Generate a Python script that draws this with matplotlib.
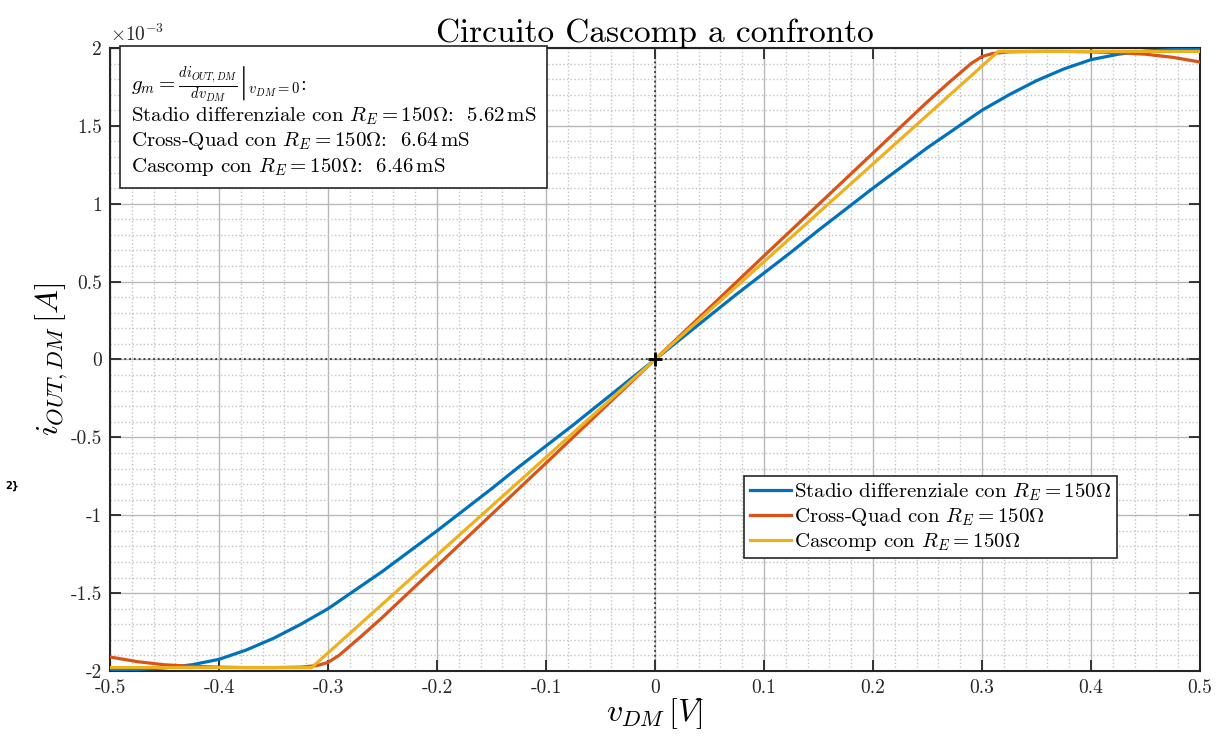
import matplotlib
matplotlib.use('Agg')
import matplotlib.pyplot as plt

plt.rcParams['font.family'] = 'cmr10'
plt.rcParams['mathtext.fontset'] = 'cm'
plt.rcParams['axes.unicode_minus'] = False

# differential stage, values in mA
v_blue = [-0.5, -0.475, -0.45, -0.425, -0.4, -0.375, -0.35, -0.325, -0.3, -0.275, -0.25,
          -0.225, -0.2, -0.175, -0.15, -0.125, -0.1, -0.075, -0.05, -0.025, 0.0,
          0.025, 0.05, 0.075, 0.1, 0.125, 0.15, 0.175, 0.2, 0.225, 0.25,
          0.275, 0.3, 0.325, 0.35, 0.375, 0.4, 0.425, 0.45, 0.475, 0.5]
i_blue = [-1.995, -1.99, -1.98, -1.96, -1.925, -1.865, -1.79, -1.70, -1.60, -1.48, -1.36,
          -1.23, -1.10, -0.965, -0.83, -0.69, -0.555, -0.42, -0.28, -0.14, 0.0,
          0.14, 0.28, 0.42, 0.555, 0.69, 0.83, 0.965, 1.10, 1.23, 1.36,
          1.48, 1.60, 1.70, 1.79, 1.865, 1.925, 1.96, 1.98, 1.99, 1.995]

# cross-quad
v_red = [-0.5, -0.475, -0.45, -0.425, -0.4, -0.375, -0.35, -0.325, -0.31, -0.3, -0.29,
         -0.28, -0.27, -0.25, -0.2, -0.15, -0.1, -0.05, 0.0,
         0.05, 0.1, 0.15, 0.2, 0.25, 0.27, 0.28, 0.29, 0.3, 0.31,
         0.325, 0.35, 0.375, 0.4, 0.425, 0.45, 0.475, 0.5]
i_red = [-1.91, -1.94, -1.96, -1.97, -1.975, -1.978, -1.978, -1.975, -1.965, -1.945, -1.90,
         -1.84, -1.78, -1.655, -1.325, -0.995, -0.665, -0.332, 0.0,
         0.332, 0.665, 0.995, 1.325, 1.655, 1.78, 1.84, 1.90, 1.945, 1.965,
         1.975, 1.978, 1.978, 1.975, 1.97, 1.96, 1.94, 1.91]

# cascomp
v_yel = [-0.5, -0.315, 0.0, 0.315, 0.5]
i_yel = [-1.978, -1.978, 0.0, 1.978, 1.978]

labels = [r'Stadio differenziale con $R_E = 150\Omega$',
          r'Cross-Quad con $R_E = 150\Omega$',
          r'Cascomp con $R_E = 150\Omega$']
colors = ['#0072BD', '#D95319', '#EDB120']

xticks = [-0.5, -0.4, -0.3, -0.2, -0.1, 0, 0.1, 0.2, 0.3, 0.4, 0.5]
xlabels = ['-0.5', '-0.4', '-0.3', '-0.2', '-0.1', '0', '0.1', '0.2', '0.3', '0.4', '0.5']
yticks = [-2, -1.5, -1, -0.5, 0, 0.5, 1, 1.5, 2]
ylabels = ['-2', '-1.5', '-1', '-0.5', '0', '0.5', '1', '1.5', '2']

fig = plt.figure(figsize=(12.16, 7.52), dpi=100)
ax = fig.add_axes([0.0905, 0.1077, 0.8963, 0.8285])

ax.plot(v_blue, [i * 1e-3 for i in i_blue], color=colors[0], lw=2.3, label=labels[0], zorder=3)
ax.plot(v_red, [i * 1e-3 for i in i_red], color=colors[1], lw=2.3, label=labels[1], zorder=3)
ax.plot(v_yel, [i * 1e-3 for i in i_yel], color=colors[2], lw=2.3, label=labels[2], zorder=3)

ax.axhline(0, color='#333333', ls=':', lw=1.3, zorder=2)
ax.axvline(0, color='#333333', ls=':', lw=1.3, zorder=2)
ax.plot([0], [0], marker='+', color='black', ms=10, mew=2, zorder=4)

ax.set_xlim(-0.5, 0.5)
ax.set_ylim(-2e-3, 2e-3)
ax.set_xticks(xticks)
ax.set_xticklabels(xlabels)
ax.set_yticks([t * 1e-3 for t in yticks])
ax.set_yticklabels(ylabels)
ax.set_xticks([x / 100 for x in range(-50, 51, 2)], minor=True)
ax.set_yticks([y / 10000 for y in range(-20, 21)], minor=True)

ax.grid(which='major', color='#b8b8b8', lw=1.0)
ax.grid(which='minor', color='#c4c4c4', ls=':', lw=1.0)
ax.set_axisbelow(True)
ax.tick_params(which='major', direction='in', length=8, width=1.3, top=True, right=True,
               labelsize=14, colors='#262626', pad=6)
ax.tick_params(which='minor', length=0, top=True, right=True)
for s in ax.spines.values():
    s.set_linewidth(1.5)
    s.set_color('#262626')

ax.set_title('Circuito Cascomp a confronto', fontsize=24, pad=1)
ax.set_xlabel(r'$v_{DM}\,[V]$', fontsize=23, labelpad=-1)
ax.set_ylabel(r'$i_{OUT,DM}\,[A]$', fontsize=23, labelpad=0)
ax.text(0.0, 1.005, r'$\times10^{-3}$', transform=ax.transAxes, fontsize=14,
        ha='left', va='bottom', color='#262626')

info = (r'$g_m = \left.\frac{di_{OUT,DM}}{dv_{DM}}\right|_{v_{DM}=0}$:' '\n'
        r'Stadio differenziale con $R_E = 150\Omega$:  $5.62\,\mathrm{mS}$' '\n'
        r'Cross-Quad con $R_E = 150\Omega$:  $6.64\,\mathrm{mS}$' '\n'
        r'Cascomp con $R_E = 150\Omega$:  $6.46\,\mathrm{mS}$')
ax.text(0.019, 0.975, info, transform=ax.transAxes, fontsize=15, va='top', ha='left',
        linespacing=1.2, zorder=5,
        bbox=dict(boxstyle='square,pad=0.5', fc='white', ec='#262626', lw=1.2))

leg = ax.legend(loc='upper left', bbox_to_anchor=(0.582, 0.313), fontsize=15,
                fancybox=False, edgecolor='#262626', framealpha=1, handlelength=2.0,
                handletextpad=0.15, borderpad=0.25, labelspacing=0.15, borderaxespad=0)
leg.get_frame().set_linewidth(1.2)

fig.text(0.004, 0.35, '2}', fontsize=7, fontweight='bold', family='DejaVu Sans')

fig.savefig('out.png', dpi=100)
